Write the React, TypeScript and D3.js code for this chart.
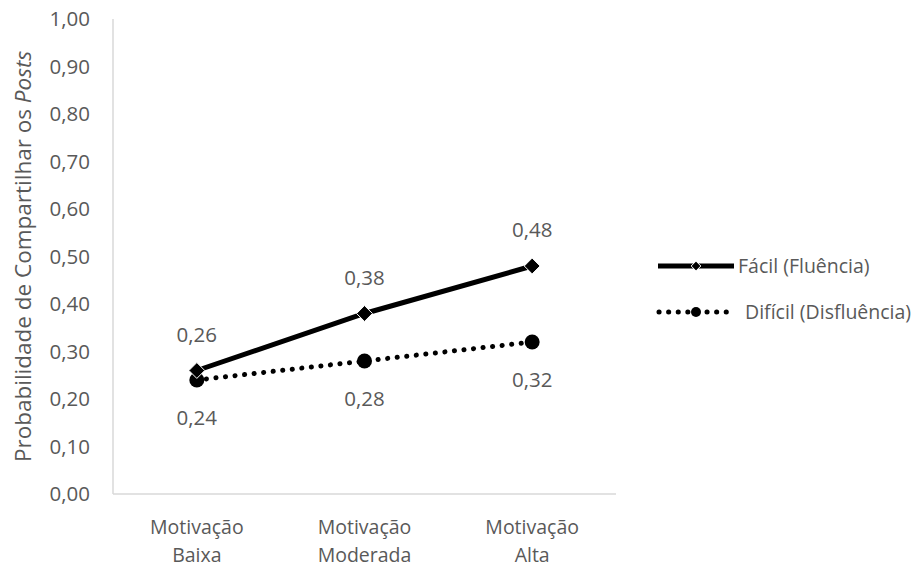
import React from "react";
import * as d3 from "d3";

const categories: string[][] = [
  ["Motivação", "Baixa"],
  ["Motivação", "Moderada"],
  ["Motivação", "Alta"],
];
const facilValues = [0.26, 0.38, 0.48];
const dificilValues = [0.24, 0.28, 0.32];
const yTicks = [0, 0.1, 0.2, 0.3, 0.4, 0.5, 0.6, 0.7, 0.8, 0.9, 1.0];
const seriesNames = ["Fácil (Fluência)", "Difícil (Disfluência)"];

const W = 918;
const H = 569;
const FONT = "'Open Sans', 'Noto Sans', sans-serif";
const GREY = "#595959";

export default function App() {
  const x = d3.scaleBand<number>().domain([0, 1, 2]).range([113, 616]);
  const y = d3.scaleLinear().domain([0, 1]).range([494, 19]);
  const cx = (i: number) => (x(i) as number) + x.bandwidth() / 2;
  const line = d3
    .line<number>()
    .x((_, i) => cx(i))
    .y((d) => y(d));
  const fmt = (v: number) => v.toFixed(2).replace(".", ",");
  const diamond = d3.symbol(d3.symbolDiamond2, 160)() as string;

  return (
    <svg width={W} height={H} style={{ position: "absolute", left: 0, top: 0 }} fontFamily={FONT}>
      <rect width={W} height={H} fill="#fff" />
      {/* axes */}
      <line x1={113} x2={113} y1={19} y2={494} stroke="#d9d9d9" strokeWidth={1.5} />
      <line x1={113} x2={616} y1={494} y2={494} stroke="#d9d9d9" strokeWidth={1.5} />
      {yTicks.map((t) => (
        <text key={t} x={90} y={y(t)} dy="0.36em" textAnchor="end" fontSize={20.5} fill={GREY}>
          {fmt(t)}
        </text>
      ))}
      {categories.map((c, i) => (
        <g key={i} fontSize={19.5} fill={GREY} textAnchor="middle">
          <text x={cx(i)} y={534}>{c[0]}</text>
          <text x={cx(i)} y={562}>{c[1]}</text>
        </g>
      ))}
      <text
        transform={`translate(31,${y(0.5)}) rotate(-90)`}
        textAnchor="middle"
        fontSize={22.5}
        fill={GREY}
      >
        Probabilidade de Compartilhar os <tspan fontStyle="italic">Posts</tspan>
      </text>

      {/* Difícil series */}
      <path
        d={line(dificilValues) as string}
        fill="none"
        stroke="#000"
        strokeWidth={5}
        strokeDasharray="0.1 9.5"
        strokeLinecap="round"
      />
      {dificilValues.map((v, i) => (
        <g key={i}>
          <circle cx={cx(i)} cy={y(v)} r={7.5} fill="#000" />
          <text x={cx(i)} y={y(v) + 38} dy="0.36em" textAnchor="middle" fontSize={20.5} fill={GREY}>
            {fmt(v)}
          </text>
        </g>
      ))}

      {/* Fácil series */}
      <path d={line(facilValues) as string} fill="none" stroke="#000" strokeWidth={5} />
      {facilValues.map((v, i) => (
        <g key={i}>
          <path d={diamond} transform={`translate(${cx(i)},${y(v)})`} fill="#000" stroke="#fff" strokeWidth={1} />
          <text x={cx(i)} y={y(v) - 36} dy="0.36em" textAnchor="middle" fontSize={20.5} fill={GREY}>
            {fmt(v)}
          </text>
        </g>
      ))}

      {/* legend */}
      <g>
        <line x1={658} x2={734} y1={266} y2={266} stroke="#000" strokeWidth={5} />
        <path d={d3.symbol(d3.symbolDiamond2, 60)() as string} transform="translate(696,266)" fill="#000" stroke="#fff" strokeWidth={1} />
        <text x={738} y={266} dy="0.36em" fontSize={19.5} fill={GREY}>{seriesNames[0]}</text>
        <line
          x1={659}
          x2={734}
          y1={312}
          y2={312}
          stroke="#000"
          strokeWidth={5}
          strokeDasharray="0.1 9.5"
          strokeLinecap="round"
        />
        <circle cx={696} cy={312} r={5} fill="#000" />
        <text x={745} y={312} dy="0.36em" fontSize={19.5} fill={GREY}>{seriesNames[1]}</text>
      </g>
    </svg>
  );
}
